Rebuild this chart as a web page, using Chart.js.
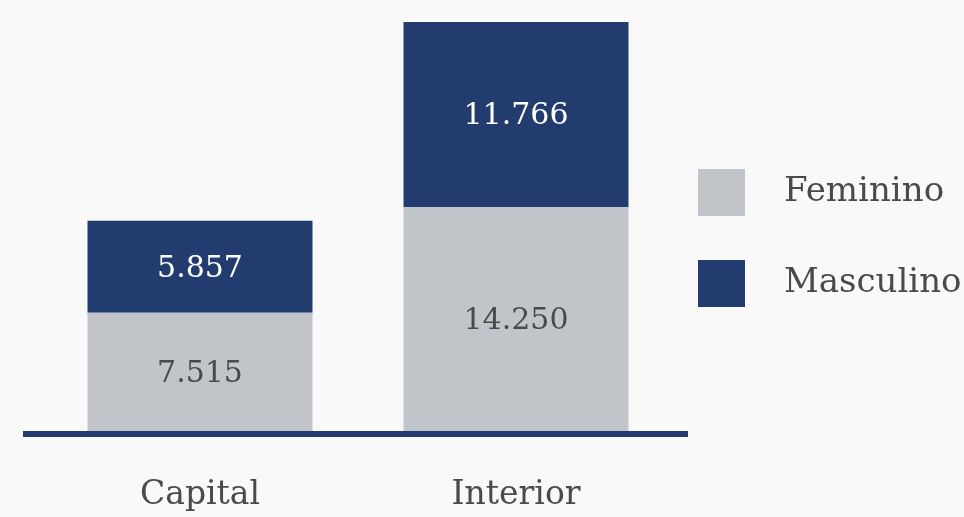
<!DOCTYPE html>
<html>
<head>
<meta charset="utf-8">
<script src="https://cdn.jsdelivr.net/npm/chart.js@4"></script>
<style>
  html, body { margin: 0; padding: 0; background: #f9f9f9; }
  #wrap { width: 964px; height: 517px; }
</style>
</head>
<body>
<div id="wrap"><canvas id="chart" width="964" height="517"></canvas></div>
<script>
const categories = ['Capital', 'Interior'];
const feminino = [7515, 14250];
const masculino = [5857, 11766];

const GRAY = '#c1c5c9';
const NAVY = '#223c70';
const TEXT = '#4a4a4a';
const FONT = '"DejaVu Serif", serif';

const fmt = v => v.toString().replace(/\B(?=(\d{3})+(?!\d))/g, '.');

// value labels inside each segment
const segmentLabels = {
    id: 'segmentLabels',
    afterDatasetsDraw(chart) {
        const ctx = chart.ctx;
        ctx.save();
        ctx.font = '30px ' + FONT;
        ctx.textAlign = 'center';
        ctx.textBaseline = 'middle';
        chart.data.datasets.forEach((ds, i) => {
            chart.getDatasetMeta(i).data.forEach((bar, j) => {
                const p = bar.getProps(['x', 'y', 'base'], true);
                ctx.fillStyle = ds.labelColor;
                ctx.fillText(fmt(ds.data[j]), p.x, (p.y + p.base) / 2 + 2);
            });
        });
        ctx.restore();
    }
};

// thick baseline under the bars
const baseline = {
    id: 'baseline',
    afterDatasetsDraw(chart) {
        const ctx = chart.ctx;
        const area = chart.chartArea;
        const y = chart.scales.y.getPixelForValue(0);
        ctx.save();
        ctx.fillStyle = NAVY;
        ctx.fillRect(area.left - 19, y, area.right - area.left + 33, 6);
        ctx.restore();
    }
};

// legend on the right with big squares
const sideLegend = {
    id: 'sideLegend',
    afterDraw(chart) {
        const ctx = chart.ctx;
        ctx.save();
        ctx.font = '34px ' + FONT;
        ctx.textAlign = 'left';
        ctx.textBaseline = 'middle';
        chart.data.datasets.forEach((ds, i) => {
            const cy = 192 + i * 91;
            ctx.fillStyle = ds.backgroundColor;
            ctx.fillRect(698, cy - 23, 47, 47);
            ctx.fillStyle = TEXT;
            ctx.fillText(ds.label, 784, cy);
        });
        ctx.restore();
    }
};

const totals = categories.map((c, i) => feminino[i] + masculino[i]);

new Chart(document.querySelector('#chart').getContext('2d'), {
    type: 'bar',
    data: {
        labels: categories,
        datasets: [
            {
                label: 'Feminino',
                data: feminino,
                backgroundColor: GRAY,
                labelColor: TEXT,
                barPercentage: 0.712,
                categoryPercentage: 1
            },
            {
                label: 'Masculino',
                data: masculino,
                backgroundColor: NAVY,
                labelColor: '#ffffff',
                barPercentage: 0.712,
                categoryPercentage: 1
            }
        ]
    },
    options: {
        responsive: false,
        animation: false,
        layout: { padding: { left: 42, right: 290, top: 22, bottom: 0 } },
        plugins: {
            legend: { display: false },
            tooltip: { enabled: false }
        },
        scales: {
            x: {
                stacked: true,
                grid: { display: false, drawTicks: false },
                border: { display: false },
                ticks: {
                    color: TEXT,
                    font: { family: FONT, size: 33 },
                    padding: 45,
                    maxRotation: 0
                },
                afterFit(scale) { scale.height = 86; }
            },
            y: {
                stacked: true,
                display: false,
                min: 0,
                max: Math.max(...totals)
            }
        }
    },
    plugins: [segmentLabels, baseline, sideLegend]
});
</script>
</body>
</html>
